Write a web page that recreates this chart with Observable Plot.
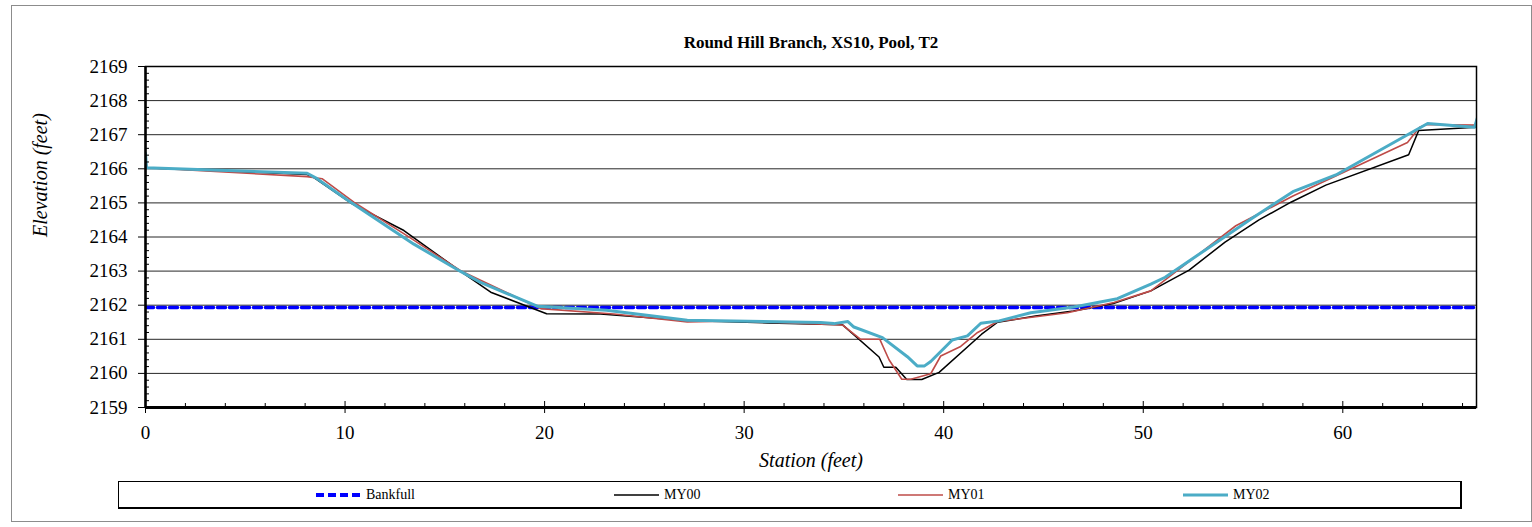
<!DOCTYPE html>
<html><head><meta charset="utf-8">
<script src="https://cdn.jsdelivr.net/npm/d3@7"></script>
<script src="https://cdn.jsdelivr.net/npm/@observablehq/plot@0.6"></script>
<style>
body{margin:0;background:#fff;}
#wrap{position:relative;width:1532px;height:527px;overflow:hidden;font-family:"Liberation Serif","Times New Roman",serif;background:#fff}
#border{position:absolute;left:11px;top:5px;width:1521px;height:517px;border:1px solid #8c8c8c;box-sizing:border-box}
#chart{position:absolute;left:0;top:0}
#legend{position:absolute;left:118px;top:481px;width:1344px;height:28px;border:1px solid #000;border-right-width:2px;border-bottom-width:2px;box-sizing:border-box;background:#fff}
.item{position:absolute;top:0;height:26px;display:flex;align-items:center;font-size:14px;color:#000}
.item svg{margin-right:4px}
</style></head>
<body>
<div id="wrap"><div id="border"></div><div id="chart"></div><div id="legend"></div></div>
<script>
// ---- data ----
const seriesNames = ["Bankfull", "MY00", "MY01", "MY02"];
const bankfullStation = [0, 66.7];
const bankfullElev = [2161.93, 2161.93];

const my00Station = [0, 8.1, 8.44, 10.36, 12.95, 15.79, 17.3, 20.1, 22.8, 27.07, 31.2, 34.92, 36.76, 37.0, 37.6, 38.15, 38.9, 39.77, 41.9, 42.7, 44.6, 46.5, 48.5, 50.38, 52.3, 54.1, 55.8, 57.4, 59.15, 63.3, 63.8, 66.7];
const my00Elev = [2166.03, 2165.83, 2165.74, 2164.97, 2164.19, 2162.99, 2162.38, 2161.75, 2161.74, 2161.55, 2161.48, 2161.43, 2160.48, 2160.18, 2160.18, 2159.82, 2159.82, 2160.03, 2161.15, 2161.5, 2161.68, 2161.83, 2162.05, 2162.42, 2163.03, 2163.85, 2164.5, 2165.02, 2165.52, 2166.41, 2167.12, 2167.22];

const my01Station = [0, 0.08, 8.1, 8.85, 10.44, 13.1, 15.79, 16.79, 19.8, 23.47, 27.15, 29.49, 34.92, 35.84, 36.8, 37.26, 37.9, 38.35, 39.35, 39.85, 40.85, 41.7, 42.7, 46.2, 48.53, 50.38, 54.64, 57.5, 63.24, 63.85, 64.2, 66.7];
const my01Elev = [2166.35, 2166.03, 2165.77, 2165.71, 2165.02, 2164.04, 2163.01, 2162.73, 2161.9, 2161.74, 2161.51, 2161.54, 2161.42, 2161.0, 2161.0, 2160.4, 2159.83, 2159.83, 2159.99, 2160.51, 2160.79, 2161.2, 2161.52, 2161.78, 2162.08, 2162.42, 2164.33, 2165.2, 2166.77, 2167.22, 2167.3, 2167.28];

const my02Station = [0, 0.05, 8.1, 8.6, 10.1, 13.45, 15.79, 16.79, 19.63, 23.1, 27.15, 33.83, 34.5, 35.2, 35.5, 36.93, 38.18, 38.67, 39.04, 39.35, 40.43, 41.19, 41.86, 42.78, 44.36, 46.53, 48.7, 50.38, 51.1, 55.4, 57.5, 59.65, 64.25, 66.6, 66.85];
const my02Elev = [2166.45, 2166.03, 2165.87, 2165.71, 2165.09, 2163.79, 2162.99, 2162.67, 2161.97, 2161.85, 2161.56, 2161.49, 2161.46, 2161.52, 2161.36, 2161.05, 2160.49, 2160.22, 2160.22, 2160.35, 2160.98, 2161.1, 2161.47, 2161.54, 2161.78, 2161.95, 2162.19, 2162.62, 2162.82, 2164.53, 2165.33, 2165.82, 2167.33, 2167.22, 2167.7];

const xTickValues = [0, 10, 20, 30, 40, 50, 60];
const yTickValues = [2159, 2160, 2161, 2162, 2163, 2164, 2165, 2166, 2167, 2168, 2169];
const titleText = "Round Hill Branch, XS10, Pool, T2";
const xLabel = "Station (feet)";
const yLabel = "Elevation (feet)";

const colors = {Bankfull: "#0000ff", MY00: "#000000", MY01: "#be4b48", MY02: "#4bacc6"};

function rows(xs, ys) { return xs.map((x, i) => ({x, y: ys[i]})); }
const bankfull = rows(bankfullStation, bankfullElev);
const my00 = rows(my00Station, my00Elev);
const my01 = rows(my01Station, my01Elev);
const my02 = rows(my02Station, my02Elev);

const xMinor = d3.range(0, 67, 2).filter(v => v % 10 !== 0);
const yMinor = d3.range(2159, 2169.001, 0.2).map(v => +v.toFixed(1)).filter(v => Math.abs(v - Math.round(v)) > 0.05);

const font = '"Liberation Serif","Times New Roman",serif';
const chart = Plot.plot({
  width: 1532, height: 527,
  marginLeft: 145, marginRight: 56, marginTop: 66, marginBottom: 120,
  style: {fontFamily: font, fontSize: "19px", background: "transparent", color: "#000"},
  x: {domain: [0, 66.7]},
  y: {domain: [2159, 2169]},
  marks: [
    Plot.gridY(yTickValues.slice(1, -1), {stroke: "#000", strokeOpacity: 0.85, strokeWidth: 1}),
    Plot.line(bankfull, {x: "x", y: "y", stroke: colors.Bankfull, strokeWidth: 3.5, strokeDasharray: "8,4", clip: true}),
    Plot.line(my00, {x: "x", y: "y", stroke: colors.MY00, strokeWidth: 1.5, clip: true}),
    Plot.line(my01, {x: "x", y: "y", stroke: colors.MY01, strokeWidth: 1.6, clip: true}),
    Plot.line(my02, {x: "x", y: "y", stroke: colors.MY02, strokeWidth: 3, clip: true}),
    Plot.frame({stroke: "#000", strokeWidth: 1.5}),
    Plot.ruleX([0], {stroke: "#000", strokeWidth: 2.5}),
    Plot.ruleY([2159], {stroke: "#000", strokeWidth: 3}),
    Plot.axisY(yTickValues, {anchor: "left", tickSize: 7, tickPadding: 11, label: null, fontSize: 19, tickFormat: d => String(d)}),
    Plot.axisY(yMinor, {anchor: "left", tickSize: -4, tickFormat: () => "", label: null}),
    Plot.axisX(xTickValues, {anchor: "bottom", tickSize: 6, tickPadding: 12, label: null, fontSize: 19, tickFormat: d => String(d)}),
    Plot.axisX(xTickValues, {anchor: "bottom", tickSize: -6, tickFormat: () => "", label: null}),
    Plot.axisX(xMinor, {anchor: "bottom", tickSize: -4, tickFormat: () => "", label: null}),
    Plot.text([titleText], {frameAnchor: "top", dy: -31, fontWeight: "bold", fontSize: 17}),
    Plot.text([xLabel], {frameAnchor: "bottom", dy: 59, fontStyle: "italic", fontSize: 20}),
    Plot.text([yLabel], {frameAnchor: "left", dx: -105, rotate: -90, fontStyle: "italic", fontSize: 20})
  ]
});
document.getElementById("chart").appendChild(chart);

// legend
const legendPos = {Bankfull: 196, MY00: 494, MY01: 778, MY02: 1063};
const legend = document.getElementById("legend");
for (const name of seriesNames) {
  const it = document.createElement("div");
  it.className = "item";
  it.style.left = legendPos[name] + "px";
  const w = name === "MY02" ? 3 : name === "Bankfull" ? 4 : 1.6;
  const dash = name === "Bankfull" ? 'stroke-dasharray="8,4"' : "";
  it.innerHTML = `<svg width="47" height="8"><line x1="1" y1="4" x2="46" y2="4" stroke="${colors[name]}" stroke-width="${w}" ${dash}/></svg><span>${name}</span>`;
  legend.appendChild(it);
}
</script>
</body></html>
